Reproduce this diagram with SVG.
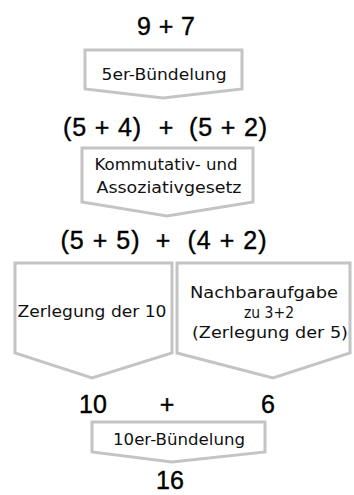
<svg xmlns="http://www.w3.org/2000/svg" width="354" height="495" viewBox="0 0 354 495">
<style>
.arr{fill:#fff;stroke:#c4c4c4;stroke-width:3;stroke-linejoin:miter}
.ex{font-family:"Liberation Sans",Arial,sans-serif;font-size:25px;fill:#000;stroke:#000;stroke-width:0.4;text-anchor:middle}
.lb{font-family:"Comic Sans MS","DejaVu Sans",sans-serif;font-size:16px;fill:#111;text-anchor:middle}
</style>
<rect width="354" height="495" fill="#fff"/>
<g id="connectors">
<polygon id="a1" class="arr" points="85,50 242,50 242,89 163,98 85,89"/>
<polygon id="a2" class="arr" points="82,148 253,148 253,202 167,216 82,202"/>
<polygon id="a3" class="arr" points="15,263 172,263 172,353 92,378 15,353"/>
<polygon id="a4" class="arr" points="177,263 350,263 350,353 273,378 177,353"/>
<polygon id="a5" class="arr" points="92,422 265,422 265,452 172,462 92,452"/>
</g>
<g id="n1"><text class="ex" x="166" y="35" textLength="58" lengthAdjust="spacing">9 + 7</text></g>
<g id="l1"><text class="lb" x="164" y="80" textLength="125" lengthAdjust="spacingAndGlyphs">5er-Bündelung</text></g>
<g id="n2">
<text class="ex" x="102" y="136" textLength="78" lengthAdjust="spacing">(5 + 4)</text>
<text class="ex" x="166" y="136">+</text>
<text class="ex" x="228" y="136" textLength="78" lengthAdjust="spacing">(5 + 2)</text>
</g>
<g id="l2">
<text class="lb" x="166" y="170" textLength="143" lengthAdjust="spacingAndGlyphs">Kommutativ- und</text>
<text class="lb" x="169" y="193" textLength="145" lengthAdjust="spacingAndGlyphs">Assoziativgesetz</text>
</g>
<g id="n3">
<text class="ex" x="100" y="249" textLength="79" lengthAdjust="spacing">(5 + 5)</text>
<text class="ex" x="163" y="249">+</text>
<text class="ex" x="227" y="249" textLength="79" lengthAdjust="spacing">(4 + 2)</text>
</g>
<g id="l3"><text class="lb" x="92" y="317" textLength="149" lengthAdjust="spacingAndGlyphs">Zerlegung der 10</text></g>
<g id="l4">
<text class="lb" x="264" y="298" textLength="148" lengthAdjust="spacingAndGlyphs">Nachbaraufgabe</text>
<text class="lb" x="269" y="318" textLength="50" lengthAdjust="spacingAndGlyphs">zu 3+2</text>
<text class="lb" x="270" y="338" textLength="156" lengthAdjust="spacingAndGlyphs">(Zerlegung der 5)</text>
</g>
<g id="n4">
<text class="ex" x="93" y="413">10</text>
<text class="ex" x="167" y="413">+</text>
<text class="ex" x="268" y="413">6</text>
</g>
<g id="l5"><text class="lb" x="179" y="445" textLength="132" lengthAdjust="spacingAndGlyphs">10er-Bündelung</text></g>
<g id="n5"><text class="ex" x="170" y="489">16</text></g>
</svg>
